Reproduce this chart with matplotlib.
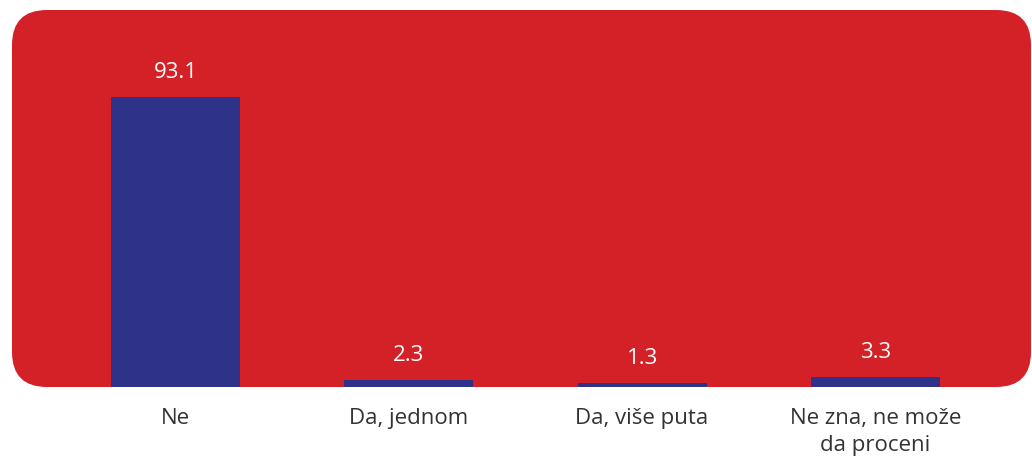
import matplotlib.pyplot as plt
from matplotlib.patches import FancyBboxPatch

# data
categories = ["Ne", "Da, jednom", "Da, više puta", "Ne zna, ne može\nda proceni"]
values = [93.1, 2.3, 1.3, 3.3]
value_labels = ["93.1", "2.3", "1.3", "3.3"]

RED = "#D42027"
BLUE = "#2E3389"
W, H = 1032, 457

plt.rcParams["font.family"] = ["Open Sans", "DejaVu Sans"]

fig = plt.figure(figsize=(W / 100, H / 100), dpi=100)

# background axes in pixel units for the rounded red panel
bg_ax = fig.add_axes([0, 0, 1, 1], zorder=0)
bg_ax.set_xlim(0, W)
bg_ax.set_ylim(H, 0)
bg_ax.axis("off")
x0, x1, y_top, y_bot = 12, 1031, 10, 387
bg_ax.add_patch(FancyBboxPatch(
    (x0, y_top), x1 - x0, y_bot - y_top,
    boxstyle="round,pad=0,rounding_size=35",
    facecolor=RED, edgecolor="none",
))

ax = fig.add_axes([58.8 / W, (H - y_bot) / H, 933.3 / W, 311.5 / H], zorder=1)
ax.patch.set_visible(False)

xs = range(len(categories))
bars = ax.bar(xs, values, width=0.553, color=BLUE, zorder=2)
ax.set_xlim(-0.5, 3.5)
ax.set_ylim(0, 100)

for b, lab in zip(bars, value_labels):
    ax.annotate(
        lab,
        (b.get_x() + b.get_width() / 2, b.get_height()),
        xytext=(0, 10),
        textcoords="offset points",
        ha="center",
        va="bottom",
        color="white",
        fontsize=16,
    )

for spine in ax.spines.values():
    spine.set_visible(False)
ax.set_yticks([])
ax.set_xticks(list(xs))
ax.set_xticklabels(categories, fontsize=16, color="#333333", linespacing=1.4,
                   va="top", fontweight="medium")
ax.tick_params(axis="x", length=0, pad=15)

fig.savefig("out.png", dpi=100)
